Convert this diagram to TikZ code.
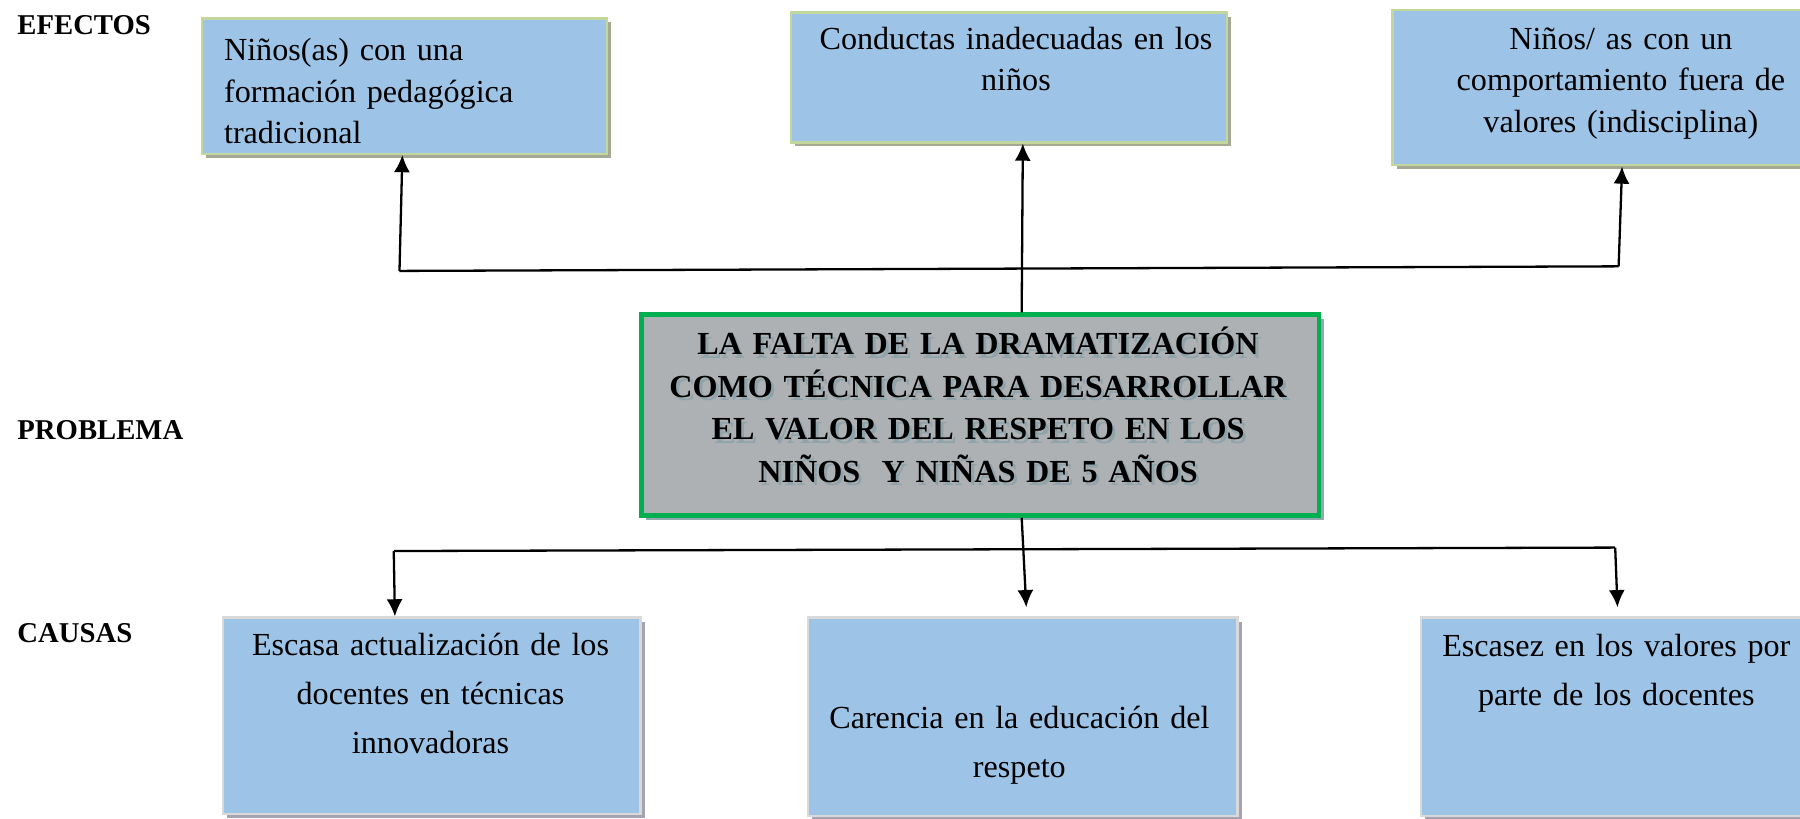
\documentclass[tikz,border=0pt]{standalone}
\usepackage{fontspec}
\setmainfont{Liberation Serif}
\usetikzlibrary{arrows.meta,shadows}
\definecolor{azulcaja}{HTML}{9DC3E6}
\definecolor{bordeefecto}{HTML}{C3D69B}
\definecolor{sombraefecto}{HTML}{A4A994}
\definecolor{bordecausa}{HTML}{D9D9D9}
\definecolor{sombracausa}{HTML}{A7A1B4}
\definecolor{grisprob}{HTML}{ADB1B4}
\definecolor{verdeprob}{HTML}{00B050}
\definecolor{sombraprob}{HTML}{93A9B1}
\definecolor{sombratitulo}{HTML}{8FA3AB}

\begin{document}
\begin{tikzpicture}[x=1pt,y=-1pt]
					\tikzstyle{efecto}=[rectangle,draw=bordeefecto,line width=2pt,fill=azulcaja,anchor=north west,drop shadow={shadow xshift=3.5pt,shadow yshift=-3.5pt,fill=sombraefecto,opacity=1}]
					\tikzstyle{causa}=[rectangle,draw=bordecausa,line width=2pt,fill=azulcaja,anchor=north west,drop shadow={shadow xshift=3.5pt,shadow yshift=-3.5pt,fill=sombracausa,opacity=1}]
					\tikzstyle{problema}=[rectangle,draw=verdeprob,line width=4pt,fill=grisprob,anchor=north west,drop shadow={shadow xshift=4pt,shadow yshift=-4pt,fill=sombraprob,opacity=1}]
					\tikzstyle{texto}=[inner sep=0pt,font=\fontsize{28}{36}\selectfont,text width=400pt,align=center,anchor=base]
					\tikzstyle{textocausa}=[texto,font=\fontsize{28}{42.5}\selectfont]
					\tikzstyle{titulo}=[inner sep=0pt,font=\fontsize{28}{37}\selectfont\bfseries,text width=580pt,align=center,anchor=base]
					\tikzstyle{etiqueta}=[inner sep=0pt,font=\fontsize{25}{30}\selectfont\bfseries,anchor=base west]
					\tikzstyle{linea}=[line width=2pt]
					\tikzstyle{flecha}=[line width=2pt,-{Latex[length=15pt,width=14pt]}]
					\clip (0,0) rectangle (1568,713);
					% etiquetas
					\node[etiqueta] (lefectos) at (15,30) {EFECTOS};
					\node[etiqueta] (lproblema) at (15,383) {PROBLEMA};
					\node[etiqueta] (lcausas) at (15,560) {CAUSAS};
					% efectos
					\node[efecto,minimum width=353pt,minimum height=118pt] (e1) at (175,15) {};
					\node[efecto,minimum width=380pt,minimum height=113pt] (e2) at (688,10) {};
					\node[efecto,minimum width=400pt,minimum height=135pt] (e3) at (1212,8) {};
					\node[texto,text width=330pt,align=left,anchor=base west] (te1) at (195,53) {Niños(as) con una\\formación pedagógica\\tradicional};
					\node[texto] (te2) at (885,43) {Conductas inadecuadas en los\\niños};
					\node[texto] (te3) at (1412,43) {Niños/ as con un\\comportamiento fuera de\\valores (indisciplina)};
					% problema
					\node[problema,minimum width=590pt,minimum height=175pt] (p) at (557,272) {};
					\node[titulo,text=sombratitulo] (tps) at (854.5,312) {LA FALTA DE LA DRAMATIZACIÓN\\COMO TÉCNICA PARA DESARROLLAR\\EL VALOR DEL RESPETO EN LOS\\NIÑOS\ \ Y NIÑAS DE 5 AÑOS};
					\node[titulo] (tp) at (852,309) {LA FALTA DE LA DRAMATIZACIÓN\\COMO TÉCNICA PARA DESARROLLAR\\EL VALOR DEL RESPETO EN LOS\\NIÑOS\ \ Y NIÑAS DE 5 AÑOS};
					% causas
					\node[causa,minimum width=364pt,minimum height=171pt] (c1) at (193,537) {};
					\node[causa,minimum width=374pt,minimum height=173pt] (c2) at (703,537) {};
					\node[causa,minimum width=342pt,minimum height=173pt] (c3) at (1237,537) {};
					\node[textocausa] (tc1) at (375,571) {Escasa actualización de los\\docentes en técnicas\\innovadoras};
					\node[textocausa] (tc2) at (888,635) {Carencia en la educación del\\respeto};
					\node[textocausa] (tc3) at (1408,572) {Escasez en los valores por\\parte de los docentes};
					% conectores
					\coordinate (ea) at (348,236);
					\coordinate (eb) at (1410,232);
					\draw[linea] (ea) -- (eb);
					\draw[flecha] (ea) -- ([xshift=-2pt]e1.south);
					\draw[flecha] ([xshift=36pt]p.north) -- ([xshift=12pt]e2.south);
					\draw[flecha] (eb) -- (e3.south);
					\coordinate (ca) at (343,480);
					\coordinate (cb) at (1407,477);
					\draw[linea] (ca) -- (cb);
					\draw[flecha] (ca) -- ([xshift=-32pt]c1.north);
					\draw[flecha] ([xshift=36pt]p.south) -- ([xshift=3pt,yshift=8pt]c2.north);
					\draw[flecha] (cb) -- ([yshift=8pt]c3.north);
\end{tikzpicture}
\end{document}
